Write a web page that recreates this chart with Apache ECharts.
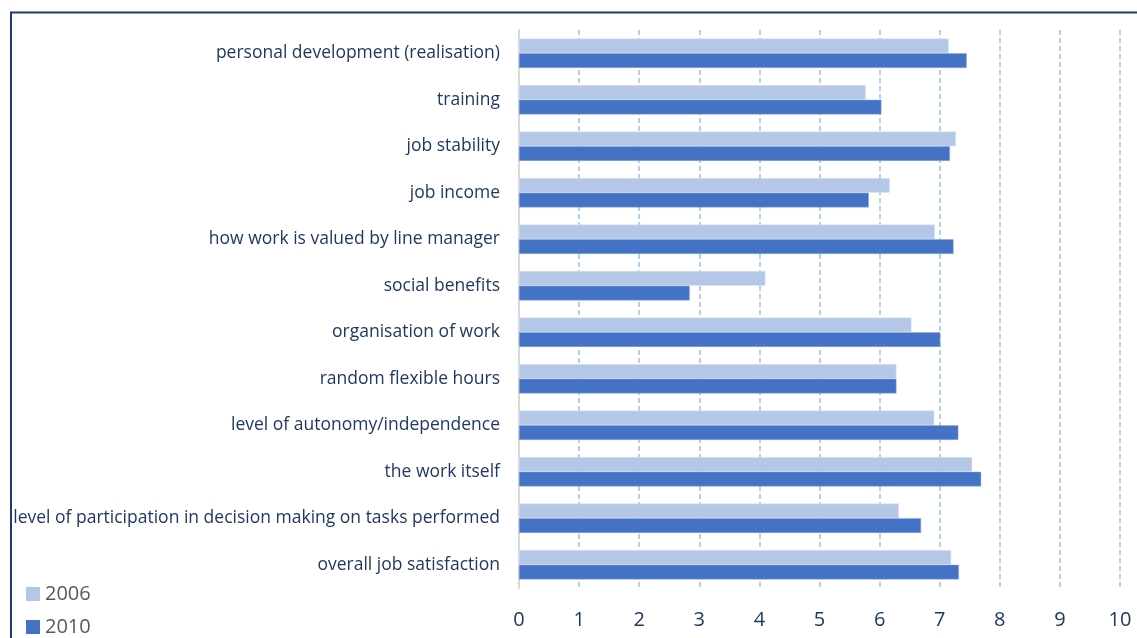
<!DOCTYPE html>
<html><head><meta charset="utf-8">
<script src="https://cdn.jsdelivr.net/npm/echarts@6/dist/echarts.min.js"></script>
<style>html,body{margin:0;padding:0;background:#fff}#c{width:1137px;height:638px}</style>
</head><body><div id="c"></div>
<script>
const categories = [
  "personal development (realisation)",
  "training",
  "job stability",
  "job income",
  "how work is valued by line manager",
  "social benefits",
  "organisation of work",
  "random flexible hours",
  "level of autonomy/independence",
  "the work itself",
  "level of participation in decision making on tasks performed",
  "overall job satisfaction"
];
const values2006 = [7.15, 5.77, 7.27, 6.17, 6.92, 4.10, 6.53, 6.28, 6.91, 7.54, 6.32, 7.19];
const values2010 = [7.45, 6.03, 7.17, 5.82, 7.23, 2.84, 7.01, 6.28, 7.31, 7.69, 6.69, 7.32];
const seriesNames = ["2006", "2010"];

const FONT = "Open Sans";
const legendText = {fontFamily: FONT, fontSize: 20, color: '#595959', lineHeight: 20};
const chart = echarts.init(document.getElementById('c'), null, {renderer: 'canvas'});
chart.setOption({
  animation: false,
  backgroundColor: '#fff',
  grid: {left: 519, right: 17, top: 30, height: 558, containLabel: false},
  legend: [
    {left: 21, top: 579, itemWidth: 14, itemHeight: 14, icon: 'rect',
     itemStyle: {borderWidth: 0},
     data: [seriesNames[0]], textStyle: legendText},
    {left: 21, top: 612, itemWidth: 14, itemHeight: 14, icon: 'rect',
     itemStyle: {borderWidth: 0},
     data: [seriesNames[1]], textStyle: legendText}
  ],
  xAxis: {
    type: 'value', min: 0, max: 10, interval: 1,
    axisLine: {show: false}, axisTick: {show: false},
    axisLabel: {fontFamily: FONT, fontSize: 20, color: '#1f3864', margin: 22},
    splitLine: {show: true, lineStyle: {color: '#9dc3e6', width: 1.5, type: [5, 3]}}
  },
  yAxis: {
    type: 'category', data: categories, inverse: true,
    axisLine: {show: true, lineStyle: {color: '#d9d9d9', width: 2}},
    axisTick: {show: false},
    axisLabel: {fontFamily: FONT, fontSize: 17.5, color: '#1f3864', margin: 19}
  },
  series: [
    {name: seriesNames[0], type: 'bar', data: values2006, barCategoryGap: '37%', barGap: '0%',
     itemStyle: {color: '#b4c7e7', borderColor: '#dfe7f5', borderWidth: 0.5}},
    {name: seriesNames[1], type: 'bar', data: values2010, barCategoryGap: '37%', barGap: '0%',
     itemStyle: {color: '#4472c4', borderColor: '#8faadc', borderWidth: 0.5}}
  ],
  graphic: [{
    type: 'polyline', silent: true,
    shape: {points: [[11, 640], [11, 12.5], [1140, 12.5]]},
    style: {stroke: '#1f3b73', lineWidth: 2, fill: null}
  }]
});
</script></body></html>
